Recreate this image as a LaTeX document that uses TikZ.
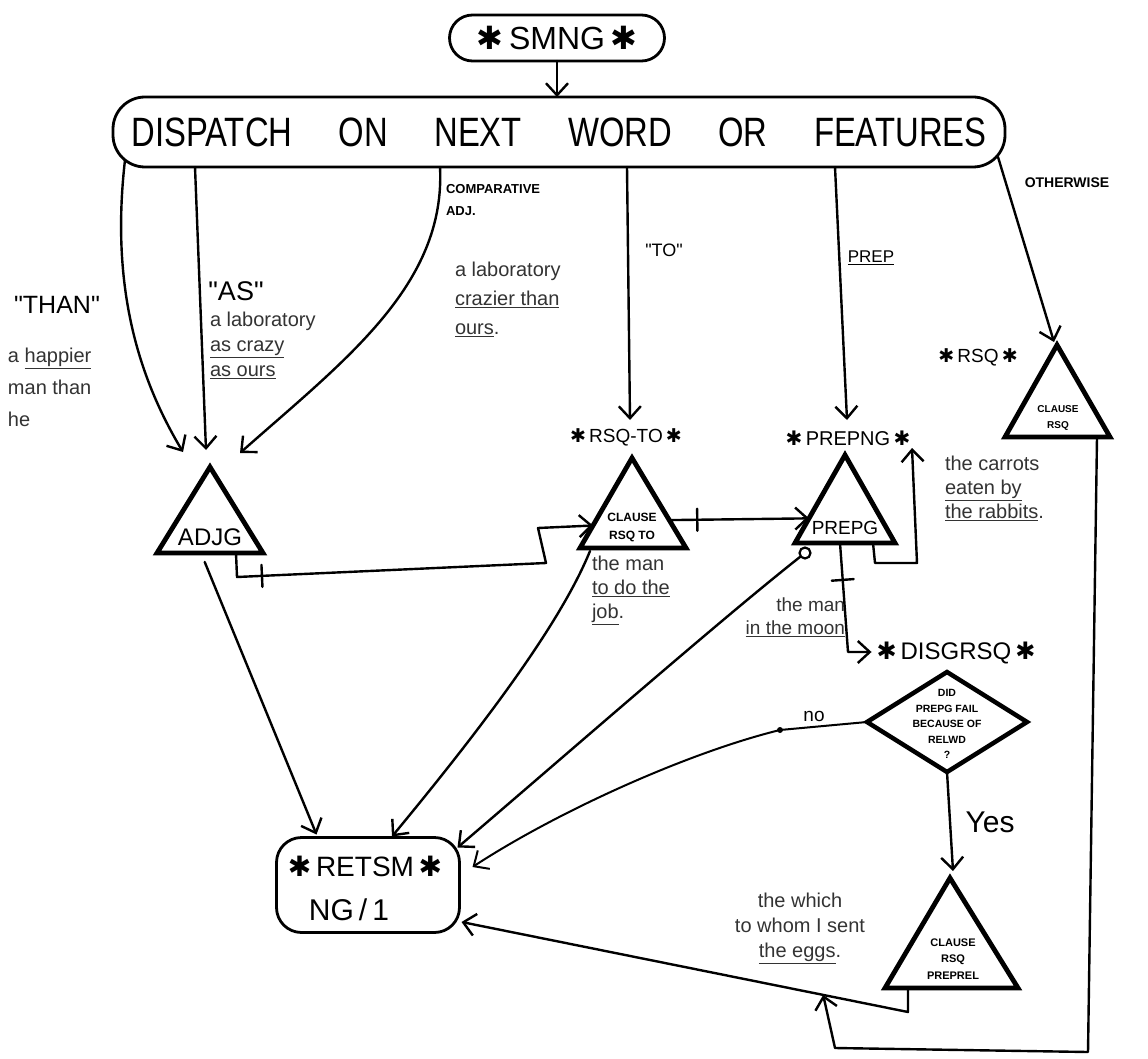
\documentclass[tikz,border=0pt]{standalone}
\usepackage{graphicx}
\usepackage{fontspec}
\setmainfont{Liberation Sans}
\newfontfamily\symf{DejaVu Sans}
\usetikzlibrary{arrows.meta,shapes.geometric,decorations.markings,calc}
\newcommand\fsz[1]{\fontsize{#1}{#1}\selectfont}
\newcommand\fszb[2]{\fontsize{#1}{#2}\selectfont}
\newcommand\stt{{\symf ✱}}
\newcommand\qq[1]{\textquotedbl#1\textquotedbl}
\begin{document}
\begin{tikzpicture}[x=1pt,y=-1pt,
  every node/.style={inner sep=0pt, outer sep=0pt},
  edge/.style={line width=2.4pt, line cap=round, line join=round},
  arr/.style={edge, -{Straight Barb[length=12pt,width=22pt]}},
  box/.style={draw, line width=2.8pt},
  tri/.style={draw, line width=4.8pt, line join=miter},
  crossbar/.style={postaction={decorate, decoration={markings,
      mark=at position #1 with {\draw[-, line width=2.4pt, line cap=round] (0,-11) -- (0,11);}}}},
  note/.style={font=\fszb{20}{26}, text=black!80, align=left},
  lbl/.style={font=\fsz{19}},
]
\useasboundingbox (0,0) rectangle (1148,1059);

% ---- entry and dispatch ----
\node[box, rounded corners=23pt, minimum width=215pt, minimum height=46pt, font=\fsz{32}]
  (smng) at (557,38) {\stt\,SMNG\,\stt};
\node[box, rounded corners=32pt, minimum width=892pt, minimum height=70pt, font=\fsz{41}]
  (disp) at (559,132) {\scalebox{0.8}[1]{DISPATCH\hspace{58pt}ON\hspace{58pt}NEXT\hspace{58pt}WORD\hspace{58pt}OR\hspace{58pt}FEATURES}};
\draw[arr] (smng.south) -- (smng.south |- disp.north);

\coordinate (b1) at (125,160);
\coordinate (b2) at (195,167);
\coordinate (b3) at (440,167);
\coordinate (b4) at (627,167);
\coordinate (b5) at (835,167);
\coordinate (b6) at (998,157);

% ---- subnetwork triangles ----
\coordinate (adjgT) at (210,467); \coordinate (adjgL) at (157,553); \coordinate (adjgR) at (263,553);
\draw[tri] (adjgL) -- (adjgT) -- (adjgR) -- cycle;
\node[font=\fsz{24}] (adjg) at (210,537) {ADJG};

\coordinate (rsqtoA) at (632,458); \coordinate (rsqtoL) at (580,548); \coordinate (rsqtoR) at (686,548);
\draw[tri] (rsqtoL) -- (rsqtoA) -- (rsqtoR) -- cycle;
\node[font=\bfseries\fszb{12}{18}, align=center] (rsqto) at (632,527) {CLAUSE\\RSQ TO};
\node[lbl] (rsqtoT) at (626,437) {\stt\,RSQ-TO\,\stt};

\coordinate (prepgA) at (845,455); \coordinate (prepgL) at (795,543); \coordinate (prepgR) at (895,543);
\draw[tri] (prepgL) -- (prepgA) -- (prepgR) -- cycle;
\node[font=\fsz{19}] (prepg) at (845,528) {PREPG};
\node[font=\fsz{20}] (prepgT) at (848,438) {\stt\,PREPNG\,\stt};

\coordinate (rsqA) at (1057,345); \coordinate (rsqL) at (1005,437); \coordinate (rsqR) at (1110,437);
\draw[tri] (rsqL) -- (rsqA) -- (rsqR) -- cycle;
\node[font=\bfseries\fszb{10}{16}, align=center] (rsq) at (1058,418) {CLAUSE\\RSQ};
\node[lbl] (rsqT) at (978,357) {\stt\,RSQ\,\stt};

\coordinate (preA) at (950,878); \coordinate (preL) at (885,988); \coordinate (preR) at (1018,988);
\draw[tri] (preL) -- (preA) -- (preR) -- cycle;
\node[font=\bfseries\fszb{11}{16.5}, align=center] (prerel) at (953,959) {CLAUSE\\RSQ\\PREPREL};

% ---- decision ----
\node[draw, diamond, line width=4.5pt, minimum width=160pt, minimum height=100pt, aspect=1.6]
  (dia) at (947,722) {};
\node[font=\bfseries\fszb{10.5}{15.5}, align=center] (diaT) at (947,724)
  {DID\\PREPG FAIL\\BECAUSE OF\\RELWD\\?};
\node[font=\fsz{24}] (disgT) at (956,653) {\stt\,DISGRSQ\,\stt};

% ---- return box ----
\node[box, rounded corners=25pt, minimum width=183pt, minimum height=95pt] (retsm) at (368,885) {};
\node[font=\fsz{28}] (retsmT) at (365,866) {\stt\,RETSM\,\stt};
\node[font=\fsz{30}] (ng) at (349,910) {NG\,/\,1};

% ---- dispatch branches ----
\draw[arr] (b1) .. controls (110,290) and (140,380) .. ($(adjgT)+(-27,-15)$);
\draw[arr] (b2) -- ($(adjgT)+(-4,-17)$);
\draw[arr] (b3) .. controls (446,285) and (345,360) .. ($(adjgT)+(30,-14)$);
\draw[arr] (b4) -- ($(rsqtoA)+(-2,-38)$);
\draw[arr] (b5) -- ($(prepgA)+(2,-35)$);
\draw[arr] (b6) -- ($(rsqA)+(-3,-3)$);

\node[font=\fsz{25}] (than) at (57,305) {\qq{THAN}};
\node[font=\fsz{27}] (as) at (236,291) {\qq{AS}};
\node[font=\bfseries\fszb{13}{22}, align=left, anchor=north west] (comp) at (446,184) {COMPARATIVE\\ADJ.};
\node[font=\fsz{18}] (to) at (664,250) {\qq{TO}};
\node[font=\fsz{17}] (prep) at (871,258) {\underline{PREP}};
\node[font=\bfseries\fsz{14}] (other) at (1067,183) {OTHERWISE};

% ---- example phrases ----
\node[note, font=\fszb{20}{32}, anchor=north west] (exThan) at (8,348) {a \underline{happier}\\man than\\he};
\node[note, font=\fszb{20}{25}, anchor=north west] (exAs) at (210,312) {a laboratory\\\underline{as crazy}\\\underline{as ours}};
\node[note, font=\fszb{20}{29}, anchor=north west] (exComp) at (455,262) {a laboratory\\\underline{crazier than}\\\underline{ours}.};
\node[note, font=\fszb{20}{24}, anchor=north west] (exTo) at (592,556) {the man\\\underline{to do the}\\\underline{job}.};
\node[note, align=right, font=\fszb{19}{23}, anchor=north east] (exPrep) at (845,598) {the man\\\underline{in the moon}};
\node[note, font=\fszb{20}{24}, anchor=north west] (exRsq) at (945,456) {the carrots\\\underline{eaten by}\\\underline{the rabbits}.};
\node[note, align=center, font=\fszb{20}{25}] (exRel) at (800,928) {the which\\to whom I sent\\\underline{the eggs}.};

% ---- connections between subnetworks ----
\draw[arr, crossbar=49pt] ($(adjgR)+(-27,0)$) -- ++(1,24) -- (546,563) -- (538,528)
  -- ($(rsqtoL)!0.25!(rsqtoA)$);
\draw[arr, crossbar=28pt] ($(rsqtoR)!0.31!(rsqtoA)$) -- ($(prepgL)!0.28!(prepgA)$);
\draw[arr] ($(prepgR)+(-22,0)$) -- ++(2,20) -- (917,563) -- (912,448);
\draw[arr, crossbar=37pt] ($(prepgL)!0.45!(prepgR)$) -- (848,652) -- ($(disgT.west)+(-5,-1)$);
\node[draw, circle, line width=2.2pt, minimum size=11pt] (ring) at (805,553) {};

% ---- returns ----
\draw[arr] ($(adjgL)!0.45!(adjgR)+(0,9)$) -- ($(retsm.north west)+(40,-3)$);
\draw[arr] ($(rsqtoL)+(10,3)$) .. controls (560,625) and (480,730) .. ($(retsm.north)+(24,-1)$);
\draw[arr] (ring) .. controls (720,620) and (560,760) .. ($(retsm.north east)+(-2,10)$);

\coordinate (bend) at (780,730);
\fill (bend) circle (3);
\draw[arr, line width=2pt] (dia.west) -- (bend) .. controls (690,752) and (560,810) .. ($(retsm.east)+(13,-18)$);
\node[font=\fsz{19}] (no) at (814,716) {no};

\draw[arr] (dia.south) -- ($(preA)+(3,-7)$);
\node[font=\fsz{30}] (yes) at (990,822) {Yes};

\coordinate (prBend) at (908,1012);
\coordinate (retIn) at ($(retsm.east)+(2,37)$);
\draw[arr] ($(preL)+(23,0)$) -- (prBend) -- (retIn);
\coordinate (join) at ($(prBend)!0.19!(retIn)$);
\draw[arr] ($(rsqR)+(-13,0)$) -- (1088,1052) -- (835,1048) -- (join);
\end{tikzpicture}
\end{document}
